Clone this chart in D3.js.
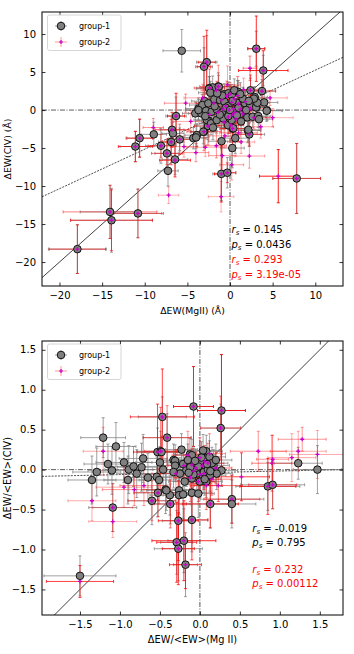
<!DOCTYPE html>
<html>
<head>
<meta charset="utf-8">
<script src="https://cdn.jsdelivr.net/npm/d3@7"></script>
<style>
body { margin: 0; background: #fff; }
svg { font-family: "DejaVu Sans", sans-serif; }
</style>
</head>
<body>
<div id="chart"></div>
<script>
// ---- data: [x, y, xerr, yerr] for group-1, [x, y, xerr, yerr, weight] for group-2 ----
let topGroup1 = [
    [-5.66, 7.8, 2.2, 2.8], [-2.73, 6.3, 1.2, 3.5], [-3.05, 5.7, 1.0, 2.5], [3.08, 8.07, 1.0, 2.3],
    [3.9, 5.2, 1.5, 2.0], [-2.4, 2.9, 1.5, 1.5], [-1.37, 3.1, 1.4, 1.8], [0.86, 2.4, 1.5, 1.5],
    [2.4, 2.6, 1.5, 1.6], [3.75, 2.5, 1.6, 1.5], [2.9, 1.7, 1.5, 1.4], [4.0, 1.0, 1.6, 1.5],
    [3.1, 0.35, 1.5, 1.4], [4.34, -0.05, 1.8, 1.3], [-4.07, -0.44, 1.5, 1.5], [-3.36, -0.44, 1.5, 1.4],
    [-6.33, -0.79, 1.2, 2.5], [-6.8, -2.6, 1.4, 1.6], [-6.7, -3.07, 1.3, 1.5], [-8.94, -3.2, 1.5, 1.6],
    [-10.6, -3.7, 1.6, 2.5], [-11.1, -4.8, 1.8, 2.0], [-8.1, -4.7, 1.8, 2.3], [-6.9, -4.2, 1.5, 1.8],
    [-5.9, -3.86, 1.3, 1.5], [-4.3, -3.7, 1.5, 1.4], [-3.9, -3.3, 1.4, 1.5], [-3.05, -2.85, 1.5, 2.0],
    [-2.58, -2.1, 1.6, 1.8], [-2.5, -1.4, 1.5, 1.5], [-1.0, -4.1, 1.5, 1.8], [0.31, -2.45, 1.4, 1.8],
    [0.27, -5.0, 1.4, 2.6], [2.1, -2.7, 1.5, 1.6], [2.26, -3.2, 1.8, 1.6], [0.62, -3.7, 1.6, 2.0],
    [-0.23, -2.0, 1.5, 1.5], [-7.4, -5.7, 1.4, 1.8], [-6.45, -6.5, 1.5, 2.0], [-7.27, -8.0, 1.2, 2.0],
    [-1.02, -8.4, 1.0, 3.5], [-0.32, -8.25, 1.0, 2.0], [7.82, -9.0, 2.8, 4.6], [-14.07, -13.4, 3.5, 3.5],
    [-13.9, -14.5, 4.8, 4.2], [-10.8, -13.6, 2.8, 3.2], [-17.9, -18.3, 3.4, 3.2], [-3.7, 0.2, 1.5, 1.4],
    [-2.03, 2.98, 1.4, 1.5], [-2.46, 2.8, 1.5, 1.6], [-1.33, 3.07, 1.3, 1.5], [0.98, 2.37, 1.5, 1.5],
    [-2.3, 2.28, 1.4, 1.5], [-0.66, 2.07, 1.4, 1.4], [-0.2, 2.2, 1.3, 1.5], [0.2, 1.97, 1.4, 1.4],
    [-3.0, 1.18, 1.5, 1.5], [-3.25, 0.66, 1.5, 1.4], [-2.54, 0.88, 1.4, 1.4], [-1.84, 1.4, 1.4, 1.5],
    [-1.17, 1.3, 1.4, 1.4], [-0.66, 1.1, 1.3, 1.4], [-0.2, 0.53, 1.4, 1.4], [0.78, 0.96, 1.5, 1.4],
    [1.76, 0.88, 1.5, 1.5], [2.34, 0.44, 1.5, 1.4], [3.05, 0.35, 1.4, 1.3], [3.2, 0.96, 1.4, 1.4],
    [4.3, -0.09, 1.8, 1.4], [-3.7, 0.0, 1.5, 1.4], [-2.8, -0.09, 1.5, 1.4], [-2.15, -0.22, 1.4, 1.4],
    [-1.56, 0.09, 1.4, 1.4], [-0.97, -0.35, 1.4, 1.4], [0.59, -0.09, 1.4, 1.4], [1.17, -0.53, 1.5, 1.4],
    [2.03, -0.96, 1.5, 1.4], [2.66, -0.88, 1.5, 1.4], [3.3, -0.79, 1.5, 1.5], [-2.73, -1.3, 1.5, 1.5],
    [-2.23, -1.75, 1.4, 1.5], [-1.56, -1.32, 1.4, 1.4], [-0.78, -1.1, 1.4, 1.4], [0.2, -1.32, 1.4, 1.4],
    [0.39, -2.4, 1.4, 1.6], [2.15, -2.6, 1.5, 1.5], [-3.13, -2.85, 1.5, 1.6], [-3.98, -3.6, 1.5, 1.5],
    [-0.5, 0.3, 1.4, 1.4], [0.3, 1.2, 1.4, 1.4], [1.0, 0.3, 1.4, 1.4], [1.5, 1.5, 1.5, 1.5],
    [-1.2, -0.6, 1.4, 1.4], [0.8, -0.7, 1.4, 1.4], [1.9, 0.0, 1.5, 1.4], [-1.8, 0.5, 1.4, 1.4],
    [-0.9, 1.9, 1.4, 1.5], [0.5, 2.6, 1.5, 1.5], [2.8, 1.5, 1.5, 1.4], [-2.9, -0.8, 1.5, 1.4],
    [1.3, -1.5, 1.4, 1.5], [-0.2, -0.8, 1.4, 1.4], [2.2, 1.2, 1.5, 1.4], [-1.5, 2.2, 1.4, 1.5],
    [0.0, 0.0, 1.3, 1.3], [1.2, 2.1, 1.4, 1.5], [3.4, -1.2, 1.6, 1.5], [-2.0, -2.3, 1.5, 1.6]
];

let topGroup2 = [
    [-2.73, 6.3, 1.0, 4.2, 0.8], [-3.05, 5.7, 0.8, 4.0, 0.8], [3.08, 8.07, 1.0, 4.3, 0.9], [3.9, 5.2, 2.9, 2.6, 0.9],
    [-2.4, 2.9, 1.8, 2.5, 0.5], [-1.37, 3.1, 2.2, 2.8, 0.4], [2.4, 2.6, 1.5, 2.0, 0.6], [3.75, 2.5, 1.6, 2.0, 0.5],
    [-6.33, -0.79, 1.0, 3.0, 0.9], [-6.8, -2.6, 2.0, 2.3, 0.8], [-10.6, -3.7, 1.5, 2.5, 0.8], [-11.1, -4.8, 2.0, 2.0, 0.8],
    [-8.1, -4.7, 1.5, 1.5, 0.5], [-6.9, -4.2, 1.0, 3.0, 0.7], [-5.9, -3.86, 1.5, 2.0, 0.5], [-7.4, -5.7, 1.8, 1.5, 0.6],
    [-6.45, -6.6, 1.8, 2.2, 0.9], [-2.58, -2.1, 1.6, 2.5, 0.5], [-3.05, -2.85, 2.0, 2.5, 0.5], [-1.02, -8.4, 0.8, 3.7, 0.9],
    [-0.32, -8.25, 1.0, 1.3, 0.7], [7.82, -9.0, 2.8, 4.6, 0.6], [-14.07, -13.4, 5.5, 3.5, 0.5], [-13.9, -14.5, 4.8, 4.0, 0.7],
    [-10.8, -13.6, 3.0, 3.2, 0.5], [-17.9, -18.3, 3.3, 3.2, 0.7], [0.31, -2.45, 1.5, 3.0, 0.7], [2.26, -3.2, 1.4, 1.5, 0.5],
    [5.66, -8.7, 2.2, 3.5, 1.0], [-7.2, -11.2, 1.2, 1.1, 0.25], [-1.05, -11.4, 1.5, 2.0, 0.25], [2.27, -6.05, 1.8, 1.6, 0.35],
    [2.34, 5.5, 0.8, 1.6, 0.5], [0.2, -7.2, 1.4, 2.0, 0.35], [-4.0, -5.6, 1.5, 1.2, 0.4], [-9.0, -2.3, 1.2, 1.2, 0.4],
    [-5.4, -4.8, 1.6, 1.4, 0.3], [-2.9, -4.9, 2.2, 1.2, 0.25], [-1.6, -4.7, 1.2, 1.6, 0.4], [1.3, -4.2, 1.6, 1.5, 0.3],
    [-0.9, -6.0, 1.6, 2.0, 0.4], [1.0, -3.0, 2.2, 1.2, 0.4], [-4.6, -1.5, 2.0, 1.5, 0.3], [-5.2, 0.9, 2.5, 1.2, 0.4],
    [4.7, 1.6, 2.0, 1.0, 0.3], [5.0, -1.0, 2.4, 1.2, 0.25], [3.6, -2.2, 1.5, 1.5, 0.3],
    [-0.5, 0.5, 1.5, 1.8, 0.5], [0.2, 1.0, 1.8, 2.0, 0.4], [0.6, -0.3, 1.5, 1.5, 0.6], [-0.2, -0.9, 1.2, 2.2, 0.5],
    [1.0, 0.8, 1.6, 1.8, 0.4], [-1.0, 1.3, 1.5, 1.6, 0.5], [0.0, 2.1, 1.2, 1.5, 0.4], [1.5, -0.5, 2.0, 1.5, 0.5],
    [-1.4, -0.3, 1.8, 1.8, 0.4], [0.4, 0.2, 1.2, 1.2, 0.6], [-0.7, -1.6, 1.5, 2.0, 0.4], [0.9, 1.9, 1.5, 2.5, 0.5],
    [-0.3, 3.3, 1.5, 2.5, 0.3], [1.8, 1.1, 1.8, 1.6, 0.4], [-1.9, 0.9, 2.0, 1.6, 0.4], [0.7, -1.2, 1.3, 2.0, 0.5],
    [-0.1, 0.0, 1.0, 1.4, 0.7], [0.3, -0.6, 1.2, 1.8, 0.6], [-0.8, 0.1, 1.6, 1.6, 0.5], [1.2, 0.1, 1.4, 1.3, 0.5],
    [0.5, 1.5, 1.6, 1.8, 0.4], [-0.4, 1.8, 1.5, 2.0, 0.4], [2.4, 0.2, 1.6, 1.6, 0.4], [-2.4, -0.6, 1.8, 1.8, 0.4],
    [0.1, -2.0, 1.5, 2.0, 0.4], [-1.6, 2.6, 1.8, 1.2, 0.3], [1.6, 2.7, 1.6, 1.5, 0.3], [-3.2, 1.6, 2.2, 1.8, 0.3],
    [2.8, -1.0, 1.8, 1.5, 0.4], [-0.6, -3.4, 1.8, 1.5, 0.3]
];

let botGroup1 = [
    [-1.21, 0.40, 0.28, 0.25], [-1.05, 0.29, 0.25, 0.3], [-1.15, 0.07, 0.3, 0.25], [-1.29, -0.03, 0.3, 0.3],
    [-1.35, -0.13, 0.3, 0.3], [-1.10, -0.01, 0.3, 0.3], [-0.95, 0.09, 0.35, 0.25], [-0.89, 0.0, 0.3, 0.3],
    [-0.83, 0.04, 0.3, 0.25], [-0.79, -0.05, 0.25, 0.3], [-0.73, 0.03, 0.3, 0.3], [-0.71, 0.14, 0.3, 0.3],
    [-0.65, -0.10, 0.3, 0.3], [-0.54, -0.09, 0.3, 0.25], [-0.51, -0.13, 0.25, 0.3], [-0.53, 0.22, 0.25, 0.3],
    [-0.49, 0.23, 0.3, 0.25], [-0.50, 0.09, 0.3, 0.2], [-0.47, 0.66, 0.3, 0.25], [-0.41, 0.40, 0.3, 0.3],
    [-0.23, 0.25, 0.2, 0.2], [-0.33, 0.12, 0.2, 0.2], [-0.125, 0.19, 0.2, 0.2], [-0.08, 0.79, 0.25, 0.5],
    [0.27, 0.74, 0.3, 0.7], [0.26, 0.52, 0.25, 0.3], [0.08, 0.23, 0.2, 0.2], [1.23, 0.08, 0.3, 0.2],
    [1.47, 0.0, 0.3, 0.3], [-0.9, -0.13, 0.3, 0.3], [-0.525, -0.29, 0.3, 0.3], [-0.43, -0.25, 0.3, 0.3],
    [-0.375, -0.32, 0.25, 0.25], [-0.37, -0.43, 0.25, 0.25], [-0.26, -0.26, 0.2, 0.3], [-0.26, -0.32, 0.2, 0.3],
    [-0.21, -0.31, 0.2, 0.3], [-0.10, -0.29, 0.25, 0.3], [-0.02, -0.30, 0.2, 0.3], [-0.60, -0.39, 0.3, 0.3],
    [-1.09, -0.475, 0.3, 0.3], [-0.27, -0.64, 0.2, 0.4], [-0.10, -0.63, 0.2, 0.4], [0.13, -0.43, 0.3, 0.3],
    [0.40, -0.37, 0.4, 0.3], [0.40, -0.43, 0.3, 0.3], [0.85, -0.21, 0.4, 0.3], [0.91, -0.19, 0.4, 0.3],
    [-0.29, -0.91, 0.2, 0.4], [-0.20, -0.89, 0.2, 0.4], [-0.27, -0.99, 0.3, 0.4], [-0.18, -1.19, 0.15, 0.4],
    [-1.5, -1.33, 0.45, 0.25],
    [-0.10, 0.18, 0.2, 0.2], [0.04, 0.24, 0.2, 0.2], [0.12, 0.16, 0.2, 0.2], [-0.31, 0.11, 0.2, 0.2],
    [-0.31, 0.05, 0.2, 0.2], [-0.21, 0.07, 0.2, 0.2], [-0.17, -0.01, 0.2, 0.2], [-0.08, 0.07, 0.2, 0.2],
    [0.0, 0.10, 0.2, 0.2], [0.08, 0.03, 0.2, 0.2], [0.17, 0.05, 0.2, 0.2], [0.27, -0.01, 0.2, 0.2],
    [0.21, -0.05, 0.2, 0.2], [0.125, -0.07, 0.2, 0.2], [0.04, -0.09, 0.2, 0.2], [-0.04, -0.05, 0.2, 0.2],
    [-0.10, -0.11, 0.2, 0.2], [-0.25, -0.05, 0.2, 0.2], [-0.33, -0.03, 0.2, 0.2], [-0.46, 0.0, 0.25, 0.2],
    [-0.48, 0.22, 0.25, 0.2], [0.0, -0.15, 0.2, 0.2], [0.08, -0.15, 0.2, 0.2], [-0.19, -0.15, 0.2, 0.2],
    [-0.42, -0.26, 0.25, 0.25], [-0.05, 0.02, 0.2, 0.2], [0.05, -0.03, 0.2, 0.2], [0.15, 0.08, 0.2, 0.2],
    [-0.15, 0.12, 0.2, 0.2], [0.02, 0.15, 0.2, 0.2], [-0.08, -0.06, 0.2, 0.2], [0.1, 0.0, 0.2, 0.2],
    [0.2, 0.12, 0.2, 0.2], [-0.12, 0.03, 0.2, 0.2], [0.06, -0.12, 0.2, 0.2], [-0.02, 0.04, 0.15, 0.15],
    [0.13, -0.02, 0.15, 0.15], [-0.06, 0.11, 0.15, 0.15], [0.09, 0.07, 0.15, 0.15], [-0.14, -0.04, 0.15, 0.15]
];

let botGroup2 = [
    [-0.47, 0.66, 0.4, 0.6, 0.8], [-0.08, 0.79, 0.25, 0.5, 0.8], [0.27, 0.74, 0.3, 0.7, 0.9], [0.26, 0.52, 0.25, 0.4, 0.5],
    [-0.41, 0.40, 0.3, 0.4, 0.5], [-0.53, 0.22, 0.3, 0.6, 0.8], [-0.49, 0.23, 0.2, 0.55, 0.6], [-0.27, -0.64, 0.25, 0.5, 0.8],
    [-0.10, -0.63, 0.2, 0.5, 0.8], [-0.29, -0.91, 0.25, 0.5, 0.8], [-0.20, -0.89, 0.4, 0.5, 0.9], [-0.27, -0.99, 0.2, 0.45, 0.8],
    [-0.18, -1.19, 0.2, 0.3, 0.8], [0.85, -0.21, 0.35, 0.35, 0.8], [0.91, -0.19, 0.3, 0.3, 0.5], [0.13, -0.43, 0.35, 0.3, 0.8],
    [0.40, -0.37, 0.35, 0.3, 0.6], [-0.37, -0.43, 0.2, 0.3, 0.5], [-0.60, -0.39, 0.3, 0.25, 0.4], [-0.525, -0.29, 0.3, 0.3, 0.5],
    [-1.5, -1.40, 0.42, 0.2, 0.8], [-1.09, -0.475, 0.25, 0.3, 0.3],
    [1.28, 0.38, 0.3, 0.15, 0.4], [1.47, 0.19, 0.35, 0.3, 0.3], [1.23, 0.23, 0.35, 0.25, 0.3], [1.15, 0.15, 0.3, 0.3, 0.3],
    [0.91, 0.13, 0.2, 0.3, 0.4], [0.90, 0.08, 0.25, 0.35, 0.5], [0.73, 0.23, 0.35, 0.25, 0.4], [0.52, -0.09, 0.35, 0.3, 0.8],
    [0.23, -0.2, 0.3, 0.2, 0.6], [-1.35, -0.39, 0.3, 0.25, 0.3], [-1.09, -0.65, 0.3, 0.2, 0.25], [-1.21, 0.23, 0.25, 0.3, 0.3],
    [-0.82, -0.25, 0.4, 0.2, 0.4], [-0.95, -0.22, 0.35, 0.25, 0.3], [-0.70, -0.2, 0.3, 0.25, 0.4],
    [-0.05, 0.02, 0.15, 0.2, 0.6], [0.05, -0.05, 0.2, 0.2, 0.6], [0.1, 0.08, 0.2, 0.25, 0.5], [-0.12, -0.1, 0.2, 0.3, 0.5],
    [0.0, 0.15, 0.15, 0.25, 0.5], [0.15, -0.12, 0.25, 0.2, 0.5], [-0.2, 0.05, 0.2, 0.2, 0.5], [0.2, 0.02, 0.2, 0.2, 0.6],
    [-0.08, -0.02, 0.15, 0.15, 0.7], [0.03, 0.05, 0.15, 0.15, 0.7], [-0.15, 0.18, 0.2, 0.3, 0.4], [0.08, -0.2, 0.2, 0.3, 0.5],
    [-0.3, -0.05, 0.3, 0.3, 0.4], [0.12, 0.2, 0.2, 0.25, 0.4], [-0.02, -0.15, 0.2, 0.25, 0.5], [0.06, 0.1, 0.15, 0.2, 0.6],
    [-0.1, 0.06, 0.15, 0.2, 0.6], [0.0, -0.06, 0.15, 0.2, 0.6]
];

// regression lines [slope, intercept]
let topFit = [0.52, 0.05];
let botFit = [0.0225, -0.04];

let topXTicks = [-20, -15, -10, -5, 0, 5, 10];
let topYTicks = [-20, -15, -10, -5, 0, 5, 10];
let botXTicks = [-1.5, -1.0, -0.5, 0.0, 0.5, 1.0, 1.5];
let botYTicks = [-1.5, -1.0, -0.5, 0.0, 0.5, 1.0, 1.5];

let topStats = [["r", "0.145", "black"], ["p", "0.0436", "black"], ["r", "0.293", "red"], ["p", "3.19e-05", "red"]];
let botStats = [["r", "-0.019", "black"], ["p", "0.795", "black"], ["r", "0.232", "red"], ["p", "0.00112", "red"]];

let legendNames = ["group-1", "group-2"];

let w = 354, h = 654;

let svg = d3.select("#chart")
    .append("svg")
    .attr("width", w)
    .attr("height", h);

function drawPanel(cfg) {
    let left = 42, right = 343;
    let top = cfg.top, bottom = cfg.bottom;

    let xScale = d3.scaleLinear().domain(cfg.xDomain).range([left, right]);
    let yScale = d3.scaleLinear().domain(cfg.yDomain).range([bottom, top]);
    let alpha = d3.scaleLinear().domain([0, 1]).range([0.1, 0.9]);

    let g = svg.append("g");

    g.append("clipPath")
        .attr("id", cfg.id)
        .append("rect")
        .attr("x", left).attr("y", top)
        .attr("width", right - left).attr("height", bottom - top);

    let plot = g.append("g").attr("clip-path", "url(#" + cfg.id + ")");

    // reference lines
    plot.append("line")
        .attr("x1", xScale(cfg.xDomain[0])).attr("x2", xScale(cfg.xDomain[1]))
        .attr("y1", yScale(0)).attr("y2", yScale(0))
        .style("stroke", "#333").style("stroke-width", 0.8)
        .style("stroke-dasharray", "5,1.5,1,1.5");
    plot.append("line")
        .attr("x1", xScale(0)).attr("x2", xScale(0))
        .attr("y1", top).attr("y2", bottom)
        .style("stroke", "#666").style("stroke-width", 1.1)
        .style("stroke-dasharray", "5,1.5,1,1.5");
    plot.append("line")
        .attr("x1", xScale(cfg.xDomain[0])).attr("y1", yScale(cfg.xDomain[0]))
        .attr("x2", xScale(cfg.xDomain[1])).attr("y2", yScale(cfg.xDomain[1]))
        .style("stroke", "#111").style("stroke-width", 0.8);
    plot.append("line")
        .attr("x1", xScale(cfg.xDomain[0])).attr("y1", yScale(cfg.fit[0] * cfg.xDomain[0] + cfg.fit[1]))
        .attr("x2", xScale(cfg.xDomain[1])).attr("y2", yScale(cfg.fit[0] * cfg.xDomain[1] + cfg.fit[1]))
        .style("stroke", "#222").style("stroke-width", 0.8)
        .style("stroke-dasharray", "2,1.2");

    function errorBars(sel, data, color, opacity) {
        let cap = 1.5;
        let eb = sel.selectAll(null)
            .data(data)
            .enter()
            .append("path")
            .attr("d", function (d) {
                let x0 = xScale(d[0] - d[2]), x1 = xScale(d[0] + d[2]);
                let y0 = yScale(d[1] - d[3]), y1 = yScale(d[1] + d[3]);
                let cx = xScale(d[0]), cy = yScale(d[1]);
                return "M" + x0 + "," + cy + "H" + x1 +
                    "M" + cx + "," + y0 + "V" + y1 +
                    "M" + x0 + "," + (cy - cap) + "V" + (cy + cap) +
                    "M" + x1 + "," + (cy - cap) + "V" + (cy + cap) +
                    "M" + (cx - cap) + "," + y0 + "H" + (cx + cap) +
                    "M" + (cx - cap) + "," + y1 + "H" + (cx + cap);
            })
            .style("fill", "none")
            .style("stroke", color)
            .style("stroke-width", 1)
            .style("stroke-opacity", opacity);
        return eb;
    }

    errorBars(plot.append("g"), cfg.g1, "#808080", 0.75);
    errorBars(plot.append("g"), cfg.g2, "#ff0000", function (d) {
        return alpha(d[4]);
    });

    plot.append("g").selectAll("circle")
        .data(cfg.g1)
        .enter()
        .append("circle")
        .attr("cx", function (d) { return xScale(d[0]); })
        .attr("cy", function (d) { return yScale(d[1]); })
        .attr("r", 3.8)
        .style("fill", "#808080")
        .style("stroke", "#111")
        .style("stroke-width", 1);

    plot.append("g").selectAll("path")
        .data(cfg.g2)
        .enter()
        .append("path")
        .attr("d", function (d) {
            let cx = xScale(d[0]), cy = yScale(d[1]);
            return "M" + (cx - 2) + "," + cy + "H" + (cx + 2) + "M" + cx + "," + (cy - 2) + "V" + (cy + 2);
        })
        .style("stroke", "#cc00cc")
        .style("stroke-width", 1.3);

    // axes (ticks pointing inward on all four sides)
    let fmt = cfg.fmt;
    g.append("g")
        .attr("transform", "translate(0," + bottom + ")")
        .call(d3.axisBottom(xScale).tickValues(cfg.xTicks).tickFormat(fmt).tickSizeInner(-3.5).tickSizeOuter(0).tickPadding(6));
    g.append("g")
        .attr("transform", "translate(0," + top + ")")
        .call(d3.axisTop(xScale).tickValues(cfg.xTicks).tickFormat("").tickSizeInner(-3.5).tickSizeOuter(0));
    g.append("g")
        .attr("transform", "translate(" + left + ",0)")
        .call(d3.axisLeft(yScale).tickValues(cfg.yTicks).tickFormat(fmt).tickSizeInner(-3.5).tickSizeOuter(0).tickPadding(6));
    g.append("g")
        .attr("transform", "translate(" + right + ",0)")
        .call(d3.axisRight(yScale).tickValues(cfg.yTicks).tickFormat("").tickSizeInner(-3.5).tickSizeOuter(0));

    g.selectAll(".domain").remove();
    g.selectAll(".tick line").style("stroke", "#000").style("stroke-width", 0.8);
    g.selectAll(".tick text")
        .style("font-family", "DejaVu Sans")
        .style("font-size", "10px")
        .style("fill", "#000");

    g.append("rect")
        .attr("x", left).attr("y", top)
        .attr("width", right - left).attr("height", bottom - top)
        .style("fill", "none").style("stroke", "#000").style("stroke-width", 1);

    // axis labels
    g.append("text")
        .attr("x", (left + right) / 2)
        .attr("y", bottom + 28)
        .style("text-anchor", "middle")
        .style("font-size", cfg.labelSize + "px")
        .text(cfg.xLabel);
    g.append("text")
        .attr("transform", "translate(11," + ((top + bottom) / 2) + ") rotate(-90)")
        .style("text-anchor", "middle")
        .style("font-size", cfg.labelSize + "px")
        .text(cfg.yLabel);

    // statistics
    cfg.stats.forEach(function (s, i) {
        let t = g.append("text")
            .attr("x", cfg.statX)
            .attr("y", cfg.statY[i])
            .style("font-size", "10px")
            .style("fill", s[2]);
        t.append("tspan").style("font-style", "italic").text(s[0]);
        t.append("tspan").style("font-style", "italic").style("font-size", "7px").attr("dy", 2).text("s");
        t.append("tspan").attr("dy", -2).text(" = " + s[1]);
    });

    // legend
    let lg = g.append("g").attr("transform", "translate(" + (left + 5.5) + "," + (top + 3) + ")");
    lg.append("rect")
        .attr("width", 73.5).attr("height", 35.5).attr("rx", 2)
        .style("fill", "#fff").style("fill-opacity", 0.8)
        .style("stroke", "#ccc").style("stroke-width", 0.8);
    let mx = 13.5;
    lg.append("path")
        .attr("d", "M" + (mx - 6) + ",11H" + (mx + 6) + "M" + mx + ",6V16")
        .style("stroke", "#808080").style("stroke-opacity", 0.75).style("stroke-width", 1);
    lg.append("circle").attr("cx", mx).attr("cy", 11).attr("r", 3.8)
        .style("fill", "#808080").style("stroke", "#111");
    lg.append("path")
        .attr("d", "M" + (mx - 6) + ",27H" + (mx + 6) + "M" + mx + ",22V32")
        .style("stroke", "#ff0000").style("stroke-opacity", 0.4).style("stroke-width", 1);
    lg.append("path")
        .attr("d", "M" + (mx - 2) + ",27H" + (mx + 2) + "M" + mx + ",25V29")
        .style("stroke", "#cc00cc").style("stroke-width", 1.2);
    lg.selectAll("text.name")
        .data(legendNames)
        .enter()
        .append("text")
        .attr("class", "name")
        .attr("x", 31.5)
        .attr("y", function (d, i) { return 14 + i * 16; })
        .style("font-size", "8px")
        .text(function (d) { return d; });
}

drawPanel({
    id: "clipTop", top: 12, bottom: 286,
    xDomain: [-22.05, 13.25], yDomain: [-23.15, 12.9],
    xTicks: topXTicks, yTicks: topYTicks, fmt: d3.format("d"),
    g1: topGroup1, g2: topGroup2, fit: topFit,
    xLabel: "ΔEW(MgII) (Å)", yLabel: "ΔEW(CIV) (Å)", labelSize: 9.3,
    stats: topStats, statX: 231.5, statY: [232.7, 248, 262.7, 278.3]
});

drawPanel({
    id: "clipBot", top: 341, bottom: 615,
    xDomain: [-1.975, 1.79], yDomain: [-1.82, 1.61],
    xTicks: botXTicks, yTicks: botYTicks, fmt: d3.format(".1f"),
    g1: botGroup1, g2: botGroup2, fit: botFit,
    xLabel: "ΔEW/<EW>(Mg II)", yLabel: "ΔEW/<EW>(CIV)", labelSize: 9.8,
    stats: botStats, statX: 252.3, statY: [532.3, 546.3, 573, 587]
});
</script>
</body>
</html>
